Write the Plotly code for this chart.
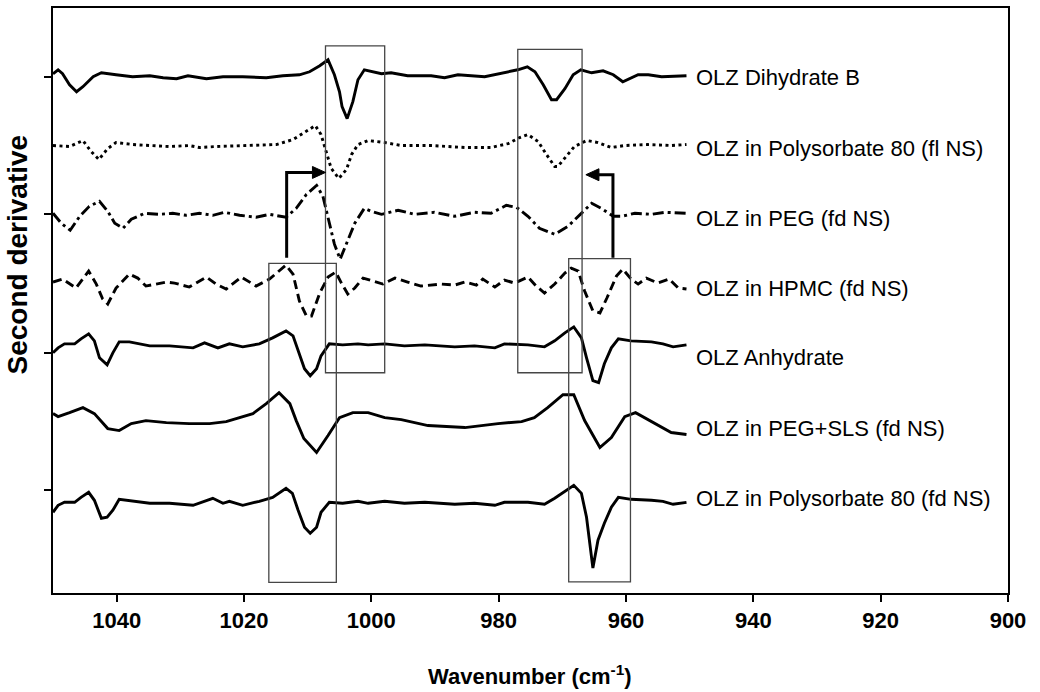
import plotly.graph_objects as go

# ---- data (wavenumber in cm-1, second-derivative value in arbitrary offset units) ----
DIHYDRATE_B_X = [1050.0, 1049.2, 1048.5, 1047.4, 1046.3, 1045.3, 1043.7, 1042.4, 1040.1, 1037.5, 1034.8, 1032.7, 1030.6, 1028.8, 1025.9, 1023.3, 1020.2, 1016.5, 1013.9, 1011.3, 1009.7, 1008.1, 1006.8, 1005.8, 1005.0, 1004.6, 1003.8, 1002.9, 1002.1, 1001.1, 998.4, 996.9, 994.3, 990.6, 988.5, 986.4, 982.2, 979.1, 977.0, 975.5, 974.3, 973.0, 971.7, 970.9, 969.6, 968.3, 967.1, 965.4, 963.6, 962.0, 960.5, 958.1, 956.5, 954.4, 950.5]
DIHYDRATE_B_Y = [521, 525, 521, 510, 503, 508, 518, 522, 520, 518, 519, 517, 516, 519, 516, 518, 518, 517, 519, 520, 523, 529, 535, 520, 503, 488, 476, 493, 515, 525, 521, 522, 519, 519, 517, 520, 518, 522, 525, 528, 523, 510, 495, 495, 506, 520, 525, 522, 524, 520, 513, 520, 520, 518, 519]

POLY_FL_X = [1050.0, 1047.4, 1045.3, 1044.0, 1042.8, 1041.4, 1040.1, 1037.5, 1034.8, 1031.7, 1028.6, 1027.0, 1024.4, 1019.1, 1014.9, 1012.3, 1010.2, 1008.8, 1007.9, 1007.1, 1006.3, 1005.1, 1003.9, 1003.1, 1002.1, 1000.5, 997.9, 995.3, 990.6, 985.3, 981.2, 978.5, 976.7, 975.4, 973.8, 972.5, 971.2, 970.7, 969.4, 968.1, 966.2, 964.4, 962.3, 960.2, 956.6, 952.9, 950.5]
POLY_FL_Y = [449, 448, 454, 443, 435, 446, 452, 450, 449, 448, 449, 447, 448, 449, 450, 455, 463, 469, 460, 443, 426, 416, 425, 440, 450, 454, 452, 449, 449, 447, 447, 451, 457, 460, 453, 440, 428, 428, 438, 448, 454, 452, 447, 449, 450, 449, 450]

PEG_X = [1050.0, 1048.7, 1047.3, 1045.8, 1044.3, 1042.7, 1041.4, 1040.3, 1039.0, 1037.7, 1035.6, 1033.3, 1031.2, 1029.1, 1027.0, 1024.9, 1023.1, 1020.7, 1018.1, 1016.0, 1013.4, 1011.8, 1010.2, 1008.6, 1007.6, 1006.8, 1005.8, 1004.9, 1003.9, 1002.6, 1001.1, 1000.0, 998.4, 995.8, 993.2, 990.1, 986.9, 983.8, 981.2, 978.8, 977.2, 975.4, 973.6, 971.2, 969.1, 967.0, 965.4, 963.9, 962.0, 960.7, 958.6, 956.0, 953.9, 950.5]
PEG_Y = [381, 371, 364, 378, 388, 393, 383, 371, 366, 375, 381, 380, 381, 379, 381, 379, 382, 379, 377, 380, 377, 386, 400, 409, 398, 376, 350, 335, 350, 371, 386, 383, 380, 384, 380, 382, 378, 382, 381, 389, 387, 378, 366, 360, 368, 381, 391, 386, 378, 378, 381, 380, 382, 381]

HPMC_X = [1050.0, 1048.5, 1046.4, 1044.4, 1043.2, 1042.2, 1041.4, 1040.1, 1038.0, 1036.7, 1035.4, 1032.2, 1030.9, 1028.6, 1025.9, 1024.4, 1022.8, 1020.4, 1018.1, 1016.0, 1013.4, 1012.3, 1011.3, 1010.2, 1009.4, 1008.1, 1006.8, 1005.6, 1004.7, 1003.7, 1002.6, 1001.3, 998.2, 996.3, 994.3, 992.2, 989.0, 986.9, 985.3, 983.5, 982.5, 980.6, 979.1, 977.5, 975.4, 974.1, 972.8, 971.2, 969.6, 968.6, 967.5, 966.5, 965.2, 964.1, 963.0, 961.5, 960.5, 959.2, 958.1, 956.8, 955.0, 953.2, 951.8, 950.5]
HPMC_Y = [312, 315, 306, 323, 310, 295, 290, 306, 320, 316, 308, 312, 311, 307, 317, 310, 305, 317, 308, 315, 329, 320, 293, 278, 278, 301, 317, 322, 311, 300, 306, 316, 310, 316, 312, 308, 310, 309, 312, 309, 315, 307, 314, 311, 317, 308, 301, 310, 321, 326, 323, 303, 283, 281, 296, 318, 325, 315, 310, 316, 311, 315, 306, 305]

ANHYDRATE_X = [1050.0, 1049.2, 1048.2, 1046.6, 1045.6, 1044.4, 1043.5, 1042.7, 1041.5, 1040.6, 1039.6, 1038.0, 1034.8, 1031.7, 1028.0, 1026.2, 1024.1, 1022.3, 1020.2, 1017.6, 1015.5, 1013.4, 1012.3, 1011.5, 1010.5, 1009.6, 1008.6, 1007.9, 1006.6, 1004.5, 1002.1, 1000.5, 997.9, 994.8, 991.6, 986.9, 983.8, 980.6, 979.1, 975.4, 972.8, 971.2, 969.6, 968.2, 967.0, 966.2, 965.2, 964.3, 963.4, 962.3, 961.2, 959.2, 956.0, 954.2, 952.6, 950.5]
ANHYDRATE_Y = [241, 246, 250, 250, 255, 260, 253, 236, 229, 241, 252, 252, 248, 248, 246, 251, 246, 250, 247, 250, 256, 263, 258, 243, 225, 218, 225, 238, 250, 249, 250, 249, 250, 248, 249, 247, 248, 246, 250, 249, 247, 253, 261, 267, 256, 236, 213, 211, 230, 246, 255, 253, 252, 250, 247, 249]

PEG_SLS_X = [1050.0, 1049.2, 1047.4, 1045.3, 1043.5, 1041.4, 1039.6, 1037.7, 1035.4, 1032.2, 1028.6, 1025.4, 1022.8, 1020.7, 1018.6, 1016.5, 1014.5, 1012.8, 1011.8, 1010.6, 1008.6, 1006.8, 1005.0, 1002.9, 1000.5, 997.9, 995.3, 991.1, 985.3, 980.1, 976.4, 974.4, 972.3, 969.9, 968.2, 966.5, 964.1, 962.3, 960.2, 958.5, 955.5, 952.9, 950.5]
PEG_SLS_Y = [180, 177, 181, 186, 180, 165, 163, 170, 173, 171, 170, 170, 172, 176, 180, 190, 201, 190, 173, 155, 141, 158, 176, 181, 181, 176, 174, 168, 166, 170, 172, 176, 186, 199, 199, 173, 146, 156, 177, 181, 170, 161, 159]

POLY_FD_X = [1050.0, 1049.2, 1048.2, 1046.6, 1045.6, 1044.4, 1043.5, 1042.4, 1041.5, 1040.6, 1039.6, 1037.5, 1034.8, 1031.7, 1028.0, 1024.9, 1023.3, 1022.3, 1020.2, 1017.6, 1015.5, 1013.4, 1012.4, 1011.5, 1010.5, 1009.6, 1008.6, 1007.9, 1006.6, 1004.5, 1002.1, 1000.5, 997.9, 994.8, 991.6, 986.9, 983.8, 980.6, 979.1, 975.4, 972.8, 971.2, 969.6, 968.2, 967.0, 966.2, 965.2, 964.4, 963.4, 962.3, 961.2, 959.2, 956.0, 954.2, 952.6, 950.5]
POLY_FD_Y = [81, 88, 91, 91, 96, 101, 93, 75, 76, 83, 94, 92, 90, 90, 88, 95, 90, 92, 88, 92, 96, 105, 100, 83, 66, 60, 66, 81, 91, 90, 92, 90, 92, 90, 91, 89, 90, 88, 91, 91, 89, 95, 102, 108, 100, 76, 25, 53, 70, 86, 96, 94, 93, 92, 89, 91]

SERIES_NAMES = ["OLZ Dihydrate B", "OLZ in Polysorbate 80 (fl NS)", "OLZ in PEG (fd NS)",
                "OLZ in HPMC (fd NS)", "OLZ Anhydrate", "OLZ in PEG+SLS (fd NS)",
                "OLZ in Polysorbate 80 (fd NS)"]
X_TICKS = [1040, 1020, 1000, 980, 960, 940, 920, 900]
Y_TICKS = [103, 241, 380, 518]

# ---- styling / layout config ----
FONT = "Liberation Sans, Arial, sans-serif"
series = [
    (DIHYDRATE_B_X, DIHYDRATE_B_Y, "solid"),
    (POLY_FL_X, POLY_FL_Y, "3px,3.5px"),
    (PEG_X, PEG_Y, "11px,4px,3px,4px"),
    (HPMC_X, HPMC_Y, "9px,5px"),
    (ANHYDRATE_X, ANHYDRATE_Y, "solid"),
    (PEG_SLS_X, PEG_SLS_Y, "solid"),
    (POLY_FD_X, POLY_FD_Y, "solid"),
]
label_y = [517, 446, 376, 306, 236, 165, 95]
label_x = 949.3

fig = go.Figure()
for (xs, ys, dash), name in zip(series, SERIES_NAMES):
    fig.add_trace(go.Scatter(x=xs, y=ys, mode="lines", name=name,
                             line=dict(color="black", width=2.9, dash=dash),
                             hoverinfo="name"))

# boxes
box_style = dict(color="rgb(70,70,70)", width=1.3)
for x0, x1, y0, y1 in [(1007.2, 997.9, 549, 221), (977.0, 966.9, 545.5, 221),
                       (1016.1, 1005.5, 330.7, 10.7), (969.0, 959.3, 335.5, 11.2)]:
    fig.add_shape(type="rect", xref="x", yref="y", x0=x0, x1=x1, y0=y0, y1=y1,
                  line=box_style, fillcolor="rgba(0,0,0,0)", layer="above")

# L-shaped arrows (vertical stem, horizontal shaft, filled triangular head)
head_len = 2.05   # cm-1
head_half = 6.0   # y units
for xv, ybot, ytop, xtip, direction in [(1013.3, 336.3, 422, 1007.2, -1),
                                        (962.05, 336.3, 419.7, 966.3, 1)]:
    xbase = xtip - direction * head_len
    fig.add_shape(type="path", xref="x", yref="y",
                  path=f"M {xv},{ybot} L {xv},{ytop} L {xbase},{ytop}",
                  line=dict(color="black", width=3), fillcolor="rgba(0,0,0,0)")
    fig.add_shape(type="path", xref="x", yref="y",
                  path=f"M {xtip},{ytop} L {xbase},{ytop + head_half} L {xbase},{ytop - head_half} Z",
                  line=dict(color="black", width=1), fillcolor="black")

# series labels
for name, ly in zip(SERIES_NAMES, label_y):
    fig.add_annotation(x=label_x, y=ly, xref="x", yref="y", text=name, showarrow=False,
                       xanchor="left", yanchor="middle",
                       font=dict(family=FONT, size=22, color="black"))

# axis titles
fig.add_annotation(x=-0.0375, y=0.579, xref="paper", yref="paper", text="<b>Second derivative</b>",
                   textangle=-90, showarrow=False, xanchor="center", yanchor="middle",
                   font=dict(family=FONT, size=28, color="black"))
fig.add_annotation(x=0.499, y=-0.14, xref="paper", yref="paper",
                   text="<b>Wavenumber (cm<sup>-1</sup>)</b>",
                   showarrow=False, xanchor="center", yanchor="middle",
                   font=dict(family=FONT, size=22, color="black"))

fig.update_layout(
    width=1040, height=692,
    margin=dict(l=53, r=32, t=6, b=99),
    paper_bgcolor="white", plot_bgcolor="white",
    showlegend=False,
    font=dict(family=FONT, color="black"),
    xaxis=dict(range=[1050, 900], tickvals=X_TICKS, ticks="outside", ticklen=7, tickwidth=2,
               tickcolor="black", showline=True, linecolor="black", linewidth=2, mirror=True,
               showgrid=False, zeroline=False,
               tickfont=dict(family=FONT, size=22, color="black", weight="bold")),
    yaxis=dict(range=[0, 587], tickvals=Y_TICKS, showticklabels=False, ticks="outside",
               ticklen=7, tickwidth=2, tickcolor="black", showline=True, linecolor="black",
               linewidth=2, mirror=True, showgrid=False, zeroline=False),
)

fig.write_html("out.html")
